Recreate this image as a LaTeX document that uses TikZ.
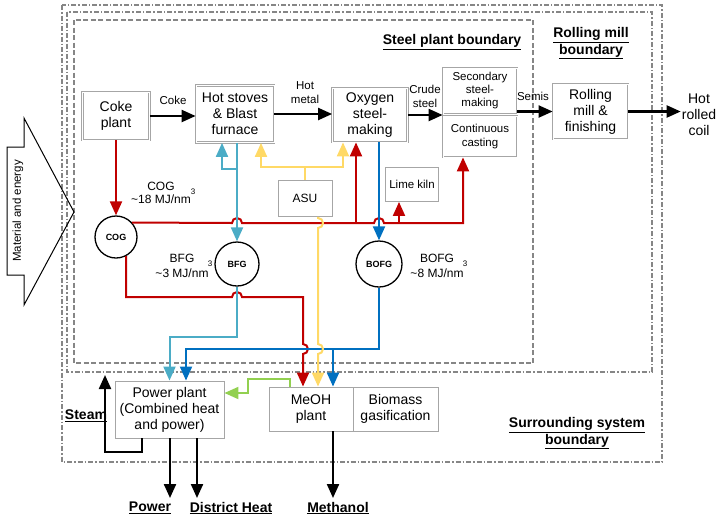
\documentclass[tikz,border=0pt]{standalone}
\usepackage{fontspec}
\setmainfont{Liberation Sans}
\usetikzlibrary{arrows.meta}

\definecolor{cogred}{RGB}{192,0,0}
\definecolor{bfgblue}{RGB}{75,172,198}
\definecolor{bofgblue}{RGB}{0,112,192}
\definecolor{oxyellow}{RGB}{255,217,102}
\definecolor{heatgreen}{RGB}{146,208,80}

\begin{document}
\begin{tikzpicture}[x=1pt,y=-1pt,
	>={Triangle[length=14pt,width=12pt]},
	proc/.style={draw=gray!70,double=white,double distance=0.8pt,line width=0.8pt,fill=white,align=center,inner sep=1pt,font=\fontsize{14}{16}\selectfont},
	plainbox/.style={draw=gray!70,line width=0.9pt,fill=white,align=center,inner sep=1pt,font=\fontsize{14}{16}\selectfont},
	holder/.style={circle,draw,line width=1.3pt,minimum size=42pt,inner sep=0pt,font=\bfseries\fontsize{9}{10}\selectfont},
	lbl/.style={align=center,inner sep=0pt,font=\fontsize{11.5}{14}\selectfont},
	boundlbl/.style={align=center,inner sep=0pt,font=\bfseries\fontsize{14}{16.5}\selectfont},
	supmark/.style={inner sep=0pt,font=\fontsize{8}{8}\selectfont},
	mainflow/.style={line width=2.2pt,->},
	cogline/.style={cogred,line width=2pt},
	bfgline/.style={bfgblue,line width=2pt},
	bofgline/.style={bofgblue,line width=2pt},
	oxyline/.style={oxyellow,line width=2pt},
	heatline/.style={heatgreen,line width=2pt},
	steelbound/.style={gray!95,line width=1.2pt,dash pattern=on 5pt off 2.5pt},
	outerbound/.style={gray!95,line width=1.2pt,dash pattern=on 5pt off 2pt on 1.5pt off 2pt}]
	\useasboundingbox (0,0) rectangle (719,520);

	% boundaries
	\draw[outerbound] (62,5) rectangle (662,462);
	\draw[outerbound] (67,12) rectangle (652,372);
	\draw[steelbound] (74,20) rectangle (533,363);
	\node[boundlbl] (steelbl) at (452,42) {\underline{Steel plant boundary}};
	\node[boundlbl] (millbl) at (591,43.5) {\underline{Rolling mill}\\\underline{boundary}};
	\node[boundlbl] (surrlbl) at (577,433.5) {\underline{Surrounding system}\\\underline{boundary}};

	% material and energy input
	\draw[line width=1pt] (7,147) -- (24,147) -- (24,118) -- (74,212) -- (24,305) -- (24,275) -- (7,275) -- cycle;
	\node[rotate=90,inner sep=0pt,font=\fontsize{11.5}{13}\selectfont] (matlbl) at (18,211) {Material and energy};

	% process chain
	\node[proc,minimum width=67pt,minimum height=48pt] (coke) at (116,116) {Coke\\plant};
	\node[proc,minimum width=78pt,minimum height=57pt] (stoves) at (235,114) {Hot stoves\\\& Blast\\furnace};
	\node[proc,minimum width=75pt,minimum height=54pt] (bof) at (370,115) {Oxygen\\steel-\\making};
	\node[proc,minimum width=74pt,minimum height=46pt,font=\fontsize{11.5}{13}\selectfont] (secondary) at (480,91) {Secondary\\steel-\\making};
	\node[proc,minimum width=74pt,minimum height=41pt,font=\fontsize{11.5}{14}\selectfont] (casting) at (480,136.5) {Continuous\\casting};
	\node[proc,minimum width=75pt,minimum height=55pt] (rolling) at (590.5,111.5) {Rolling\\mill \&\\finishing};
	\node[align=center,inner sep=1pt,font=\fontsize{14}{16}\selectfont] (coil) at (699,115) {Hot\\rolled\\coil};

	\node[plainbox,minimum width=54pt,minimum height=36pt,font=\fontsize{12}{14}\selectfont] (asu) at (305,198.5) {ASU};
	\node[plainbox,minimum width=53pt,minimum height=34pt,font=\fontsize{11.5}{14}\selectfont] (kiln) at (412,184.5) {Lime kiln};

	% gas holders
	\node[holder] (cog) at (116,237) {COG};
	\node[holder,minimum size=44pt] (bfg) at (237,264) {BFG};
	\node[holder,minimum size=46pt] (bofg) at (379,264) {BOFG};
	\node[lbl,font=\fontsize{12}{13.5}\selectfont] (coglbl) at (161,193) {COG\\\textasciitilde18 MJ/nm};
	\node[supmark] (cogsup) at (193,192) {3};
	\node[lbl,font=\fontsize{12}{15}\selectfont] (bfglbl) at (182,265.5) {BFG\\\textasciitilde3 MJ/nm};
	\node[supmark] (bfgsup) at (210,264) {3};
	\node[lbl,font=\fontsize{12}{15}\selectfont] (bofglbl) at (437,265.5) {BOFG\\\textasciitilde8 MJ/nm};
	\node[supmark] (bofgsup) at (465,264) {3};

	% surrounding system
	\node[plainbox,minimum width=109pt,minimum height=57pt] (power) at (169.5,409.5) {Power plant\\(Combined heat\\and power)};
	\node[plainbox,minimum width=84pt,minimum height=44pt] (meoh) at (311,409) {MeOH\\plant};
	\node[plainbox,minimum width=85pt,minimum height=44pt] (biomass) at (395.5,409) {Biomass\\gasification};

	% junctions and free ends
	\coordinate (jbof) at (356,223);
	\coordinate (jkiln) at (399,223);
	\coordinate (jcast) at (463,223);
	\coordinate (jstove) at (237,169);
	\coordinate (bfgturn) at (237,337);
	\coordinate (bbus) at (186,349);
	\coordinate (jmeoh) at (333,349);
	\coordinate (yl) at (261,167);
	\coordinate (yr) at (343,167);
	\coordinate (steam) at (105,375);
	\coordinate (pwrout) at (170,498);
	\coordinate (heatout) at (197,498);
	\coordinate (meohout) at (333,498);

	% main product flow
	\draw[mainflow] (coke.east) -- (coke.east -| stoves.west);
	\draw[mainflow] (stoves.east) -- (stoves.east -| bof.west);
	\draw[mainflow] (bof.east) -- (bof.east -| secondary.west);
	\draw[mainflow] (secondary.east |- rolling.west) -- (rolling.west);
	\draw[mainflow] (rolling.east) -- (rolling.east -| coil.west);
	\node[lbl] (cokelbl) at (173,100) {Coke};
	\node[lbl] (hmlbl) at (305,93) {Hot\\metal};
	\node[lbl] (crudelbl) at (425,96) {Crude\\steel};
	\node[lbl] (semislbl) at (533,96) {Semis};

	% coke oven gas
	\draw[cogline,->] (coke) -- (cog);
	\draw[cogline,->] (cog.42) -- (232,223) arc[start angle=180,end angle=0,radius=5pt]
		-- (374,223) arc[start angle=180,end angle=0,radius=5pt] -- (jcast) -- (jcast |- casting.south);
	\draw[cogline,->] (jbof) -- (jbof |- bof.south);
	\draw[cogline,->] (jkiln) -- (jkiln |- kiln.south);
	\draw[cogline,->] (cog.-62) |- (232,297) arc[start angle=180,end angle=0,radius=5pt]
		-| (303,344) arc[start angle=90,end angle=-90,radius=5pt] -- (meoh.north -| 303,0);

	% blast furnace gas
	\draw[bfgline,->] (bfg |- stoves.south) -- (bfg);
	\draw[bfgline,->] (jstove) -| (stoves.south -| 222,0);
	\draw[bfgline,->] (bfg.south) -- (bfgturn) -| (power.north);

	% basic oxygen furnace gas
	\draw[bofgline,->] (bofg |- bof.south) -- (bofg);
	\draw[bofgline,->] (bofg.south) |- (bbus) -- (bbus |- power.north);
	\draw[bofgline,->] (jmeoh) -- (jmeoh |- meoh.north);

	% oxygen from ASU
	\draw[oxyline,->] (asu.north) |- (yl) -- (yl |- stoves.south);
	\draw[oxyline,->] (asu.north) |- (yr) -- (yr |- bof.south);
	\draw[oxyline,->] (asu.south -| 318,0) -- (318,218) arc[start angle=90,end angle=-90,radius=5pt]
		-- (318,344) arc[start angle=90,end angle=-90,radius=5pt] -- (meoh.north -| 318,0);

	% heat from MeOH plant
	\draw[heatline,->] (meoh.north -| 290,0) |- (248,379) |- (power.east |- 0,393);

	% outputs
	\draw[mainflow] (power.south -| 142,0) |- (105,452) -- (steam);
	\draw[mainflow] (power.south -| 170,0) -- (pwrout);
	\draw[mainflow] (power.south -| 197,0) -- (heatout);
	\draw[mainflow] (meoh.south -| 333,0) -- (meohout);
	\node[boundlbl] (steamlbl) at (86,416) {\underline{Steam}};
	\node[boundlbl] (pwrlbl) at (150,508) {\underline{Power}};
	\node[boundlbl] (heatlbl) at (231,508) {\underline{District Heat}};
	\node[boundlbl] (meohlbl) at (338,508) {\underline{Methanol}};
\end{tikzpicture}
\end{document}
